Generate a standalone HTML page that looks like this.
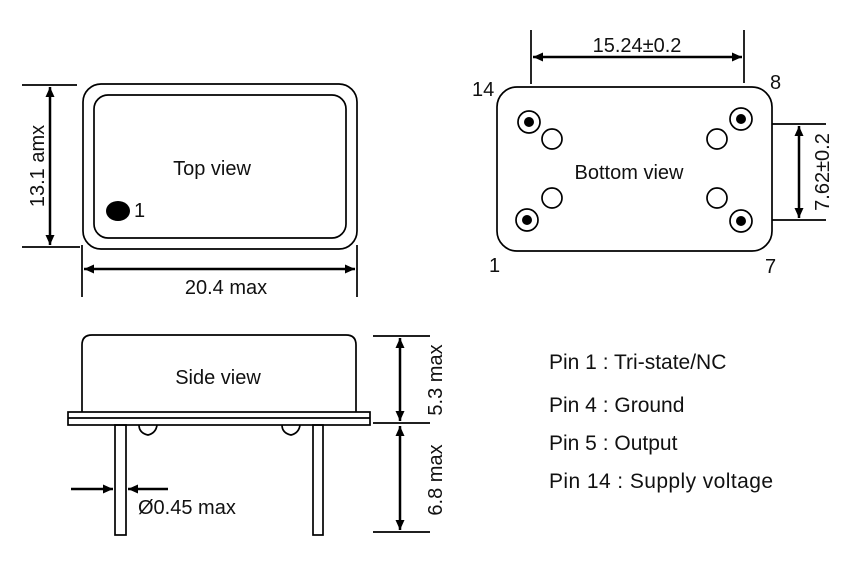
<!DOCTYPE html>
<html><head><style>body{margin:0;background:#fff}svg{display:block}text{font-family:"Liberation Sans",sans-serif;fill:#111}</style></head><body>
<svg width="852" height="574" viewBox="0 0 852 574" xmlns="http://www.w3.org/2000/svg">
<defs><marker id="a" viewBox="0 0 10 10" refX="10" refY="5" markerWidth="12" markerHeight="10" orient="auto-start-reverse" markerUnits="userSpaceOnUse"><path d="M0,0.5 L10,5 L0,9.5 z" fill="#000"/></marker></defs>
<g fill="none" stroke="#000" stroke-width="1.7">
<!-- top view -->
<rect x="83" y="84" width="274" height="165" rx="18"/>
<rect x="94" y="95" width="252" height="143" rx="14"/>
<line x1="22" y1="85" x2="77" y2="85"/><line x1="22" y1="247" x2="80" y2="247"/>
<line x1="50" y1="87" x2="50" y2="245" stroke-width="2.5" marker-start="url(#a)" marker-end="url(#a)"/>
<line x1="82" y1="245" x2="82" y2="297"/><line x1="357" y1="245" x2="357" y2="297"/>
<line x1="84" y1="269" x2="355" y2="269" stroke-width="2.5" marker-start="url(#a)" marker-end="url(#a)"/>
<!-- bottom view -->
<rect x="497" y="87" width="275" height="164" rx="20"/>
<line x1="531" y1="30" x2="531" y2="84"/><line x1="744" y1="30" x2="744" y2="83"/>
<line x1="533" y1="57" x2="742" y2="57" stroke-width="2.5" marker-start="url(#a)" marker-end="url(#a)"/>
<line x1="772" y1="124" x2="826" y2="124"/><line x1="772" y1="220" x2="826" y2="220"/>
<line x1="799" y1="126" x2="799" y2="218" stroke-width="2.5" marker-start="url(#a)" marker-end="url(#a)"/>
<circle cx="529" cy="122" r="11"/><circle cx="552" cy="139" r="10"/>
<circle cx="741" cy="119" r="11"/><circle cx="717" cy="139" r="10"/>
<circle cx="527" cy="220" r="11"/><circle cx="552" cy="198" r="10"/>
<circle cx="741" cy="221" r="11"/><circle cx="717" cy="198" r="10"/>
<!-- side view -->
<path d="M82,412 L82,345 Q82,335 92,335 L346,335 Q356,335 356,345 L356,412"/>
<rect x="68" y="412" width="302" height="13"/>
<line x1="68" y1="418" x2="370" y2="418"/>
<rect x="115" y="425" width="11" height="110"/>
<rect x="313" y="425" width="10" height="110"/>
<path d="M139,425 Q139,433 148,435 Q156,433 157,425"/>
<path d="M282,425 Q282,433 291,435 Q299,433 300,425"/>
<line x1="373" y1="336" x2="430" y2="336"/><line x1="373" y1="423" x2="430" y2="423"/><line x1="373" y1="532" x2="430" y2="532"/>
<line x1="400" y1="338" x2="400" y2="421" stroke-width="2.5" marker-start="url(#a)" marker-end="url(#a)"/>
<line x1="400" y1="426" x2="400" y2="530" stroke-width="2.5" marker-start="url(#a)" marker-end="url(#a)"/>
<line x1="71" y1="489" x2="113" y2="489" stroke-width="2.5" marker-end="url(#a)"/>
<line x1="168" y1="489" x2="128" y2="489" stroke-width="2.5" marker-end="url(#a)"/>
</g>
<g fill="#000">
<ellipse cx="118" cy="211" rx="12" ry="10"/>
<circle cx="529" cy="122" r="5"/><circle cx="741" cy="119" r="5"/><circle cx="527" cy="220" r="5"/><circle cx="741" cy="221" r="5"/>
</g>
<g font-size="20">
<text x="212" y="175" text-anchor="middle">Top view</text>
<text x="134" y="217">1</text>
<text x="226" y="294" text-anchor="middle">20.4 max</text>
<text transform="translate(44,166) rotate(-90)" text-anchor="middle">13.1 amx</text>
<text x="637" y="52" text-anchor="middle">15.24±0.2</text>
<text x="629" y="179" text-anchor="middle">Bottom view</text>
<text transform="translate(829,172) rotate(-90)" text-anchor="middle">7.62±0.2</text>
<text x="472" y="96">14</text>
<text x="770" y="89">8</text>
<text x="489" y="272">1</text>
<text x="765" y="273">7</text>
<text x="218" y="384" text-anchor="middle">Side view</text>
<text transform="translate(442,380) rotate(-90)" text-anchor="middle">5.3 max</text>
<text transform="translate(442,480) rotate(-90)" text-anchor="middle">6.8 max</text>
<text x="138" y="514">Ø0.45 max</text>
</g>
<g font-size="21">
<text x="549" y="369">Pin 1 : Tri-state/NC</text>
<text x="549" y="412">Pin 4 : Ground</text>
<text x="549" y="450">Pin 5 : Output</text>
<text x="549" y="488" textLength="224">Pin 14 : Supply voltage</text>
</g>
</svg>
</body></html>
